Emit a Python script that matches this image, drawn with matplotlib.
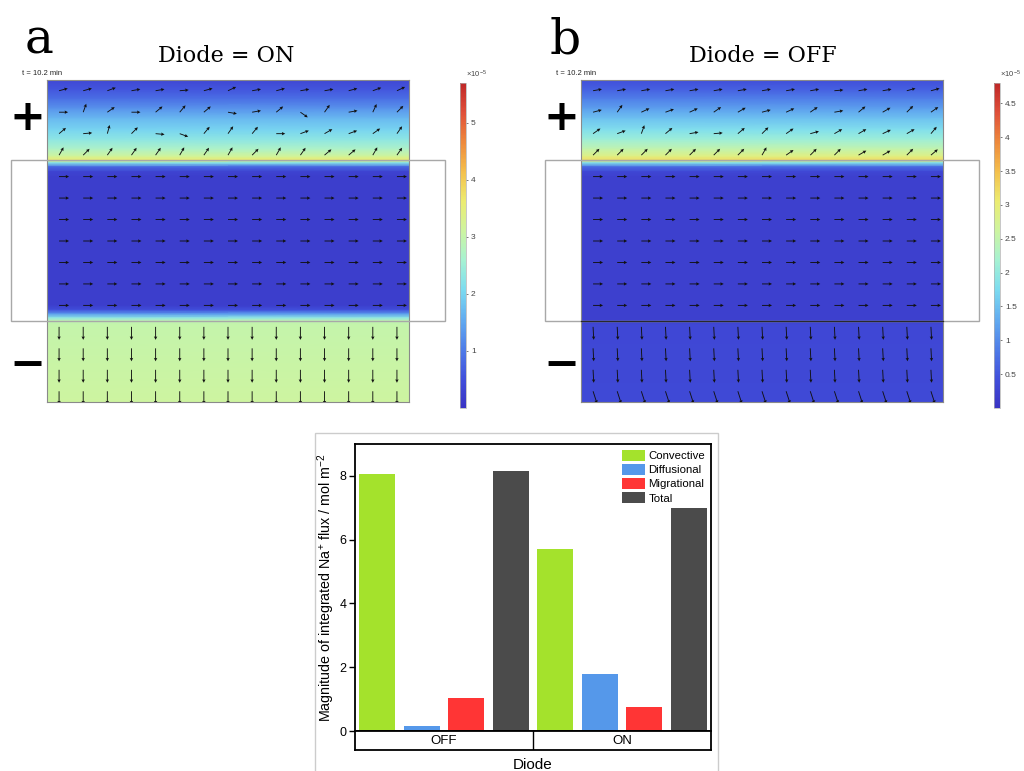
import numpy as np
import matplotlib
matplotlib.use("Agg")
import matplotlib.pyplot as plt
from matplotlib.colors import LinearSegmentedColormap, Normalize
from matplotlib.cm import ScalarMappable
from matplotlib.patches import Rectangle
from matplotlib.ticker import FuncFormatter

plt.rcParams['font.family'] = ['Liberation Sans', 'DejaVu Sans']
plt.rcParams['mathtext.fontset'] = 'custom'
plt.rcParams['mathtext.rm'] = 'Liberation Sans'
plt.rcParams['mathtext.it'] = 'Liberation Sans:italic'

# ---------------- data ----------------
# Panel c: integrated Na+ flux magnitude
diode_states = ['OFF', 'ON']
components = ['Convective', 'Diffusional', 'Migrational', 'Total']
flux_off = [8.05, 0.15, 1.02, 8.15]
flux_on = [5.72, 1.78, 0.75, 6.98]
comp_colors = ['#a4e22c', '#5598ea', '#ff3535', '#4b4b4b']

# Panels a/b: concentration profile along depth (fraction of cell height from top), units 1e-5
depth_on = [0.0, 0.03, 0.06, 0.09, 0.12, 0.155, 0.185, 0.215, 0.238, 0.248, 0.258, 0.27, 0.285, 0.30,
            0.70, 0.714, 0.727, 0.739, 0.748, 0.76, 1.0]
conc_on = [0.35, 0.6, 0.9, 1.3, 1.7, 2.0, 2.3, 2.7, 3.2, 3.6, 2.2, 0.8, 0.3, 0.2,
           0.2, 0.5, 1.4, 2.3, 2.9, 3.0, 3.1]
depth_off = [0.0, 0.03, 0.06, 0.09, 0.12, 0.155, 0.185, 0.215, 0.238, 0.248, 0.258, 0.27, 0.285, 0.30,
             0.745, 0.76, 1.0]
conc_off = [0.4, 0.6, 0.9, 1.2, 1.5, 1.8, 2.1, 2.5, 2.9, 3.2, 1.8, 0.7, 0.3, 0.2,
            0.2, 0.3, 0.32]
cbar_max_on = 5.7
cbar_max_off = 4.8
cbar_ticks_on = [1, 2, 3, 4, 5]
cbar_ticks_off = [0.5, 1, 1.5, 2, 2.5, 3, 3.5, 4, 4.5]

# arrow directions (degrees, screen coords) for 15x15 grid, top 4 rows vary
top_angles_on = [
    [15, 15, 20, 10, 10, 5, 15, 25, 10, 15, 10, 10, 15, 20, 25],
    [0, 70, 35, 0, 40, 50, 40, -10, 10, 40, -35, 55, 10, 65, 45],
    [40, 5, 75, 45, -5, -20, 50, 55, 50, 0, 20, 30, 20, 35, 55],
    [60, 45, 55, 55, 55, 60, 55, 60, 45, 60, 55, 40, 40, 60, 55],
]
top_angles_off = [
    [10, 10, 10, 10, 10, 10, 10, 10, 10, 10, 5, 10, 10, 15, 15],
    [15, 55, 25, 20, 25, 35, 30, 15, 25, 35, 10, 40, 30, 45, 35],
    [35, 20, 70, 40, 10, 5, 40, 45, 35, 15, 30, 30, 25, 30, 50],
    [45, 45, 45, 45, 45, 45, 45, 60, 35, 45, 45, 30, 30, 45, 40],
]
channel_angle = 0
bottom_row_angles_on = [-90, -90, -90, -90]
bottom_row_angles_off = [-87, -87, -87, -72]

W, H = 1024, 771
fig = plt.figure(figsize=(W / 100, H / 100), dpi=100)


def px_axes(x0, y0, x1, y1):
    return fig.add_axes([x0 / W, 1 - y1 / H, (x1 - x0) / W, (y1 - y0) / H])


def fx(x):
    return x / W


def fy(y):
    return 1 - y / H


def fig_rect(x0, y0, x1, y1, **kw):
    r = Rectangle((fx(x0), fy(y1)), (x1 - x0) / W, (y1 - y0) / H,
                  transform=fig.transFigure, fill=False, **kw)
    fig.add_artist(r)
    return r


cmap = LinearSegmentedColormap.from_list('comsol_light', [
    '#3a34c4', '#4150dc', '#4f7ee8', '#62acf0', '#7cdcf0', '#a6f2d2',
    '#cdf4a0', '#ecec70', '#f4c04c', '#ee8a3c', '#e0503a', '#c02828'])


def draw_panel(mx0, mx1, my0, my1, depth, conc, vmax, top_angles, bottom_angles,
               cbx0, ticks, letter, letter_x, title, title_cx, rect_x0, rect_x1,
               sign_cx, bottom_line=False):
    ax = px_axes(mx0, my0, mx1, my1)
    d = np.asarray(depth)
    c = np.asarray(conc)
    Y = np.column_stack([1 - d, 1 - d])
    X = np.column_stack([np.zeros_like(d), np.ones_like(d)])
    C = np.column_stack([c, c])
    ax.pcolormesh(X, Y, C, shading='gouraud', cmap=cmap, vmin=0, vmax=vmax)
    ax.set_xlim(0, 1)
    ax.set_ylim(0, 1)
    ax.set_xticks([])
    ax.set_yticks([])
    for s in ax.spines.values():
        s.set_color('#8a8a8a')
        s.set_linewidth(0.8)

    n = 15
    gx = (np.arange(n) + 0.5) / n
    gy = 1 - (np.arange(n) + 0.5) / n
    GX, GY = np.meshgrid(gx, gy)
    ang = np.vstack([np.array(top_angles, float),
                     np.full((7, n), channel_angle, float),
                     np.repeat(np.array(bottom_angles, float)[:, None], n, axis=1)])
    length = np.vstack([np.full((4, n), 9.0), np.full((7, n), 10.0), np.full((4, n), 13.0)])
    U = length * np.cos(np.radians(ang))
    V = length * np.sin(np.radians(ang))
    ax.quiver(GX, GY, U, V, angles='uv', scale_units='dots', scale=1, pivot='tail',
              units='dots', width=0.9, headwidth=3.8, headlength=3.8, headaxislength=3.4,
              color='#111111', zorder=3)

    # channel outline
    fig_rect(rect_x0, 160, rect_x1, 321, ec='#a8a8a8', lw=1.0, zorder=10)
    if bottom_line:
        fig.add_artist(plt.Line2D([fx(mx0), fx(mx1)], [fy(321), fy(321)],
                                  transform=fig.transFigure, color='#2a2a2a', lw=0.9, zorder=11))

    # colorbar
    cax = px_axes(cbx0, 83, cbx0 + 6, 408)
    sm = ScalarMappable(norm=Normalize(0, vmax), cmap=cmap)
    cb = fig.colorbar(sm, cax=cax, ticks=ticks)
    cb.outline.set_edgecolor('#b0b0b0')
    cb.outline.set_linewidth(0.5)
    cax.tick_params(labelsize=6, length=1.5, width=0.5, colors='#444444', pad=2)
    cax.yaxis.set_major_formatter(FuncFormatter(lambda v, p: '%g' % v))
    fig.text(fx(cbx0 + 6), fy(78), r'$\times10^{-5}$', fontsize=5.5, color='#444444',
             ha='left', va='baseline')

    fig.text(fx(mx0 - 25), fy(75), 't = 10.2 min', fontsize=5.5, color='#222222',
             ha='left', va='baseline')
    fig.text(fx(letter_x), fy(53), letter, fontsize=35, family='DejaVu Serif',
             ha='left', va='baseline')
    fig.text(fx(title_cx), fy(62), title, fontsize=16, family='DejaVu Serif',
             ha='center', va='baseline')
    fig.text(fx(sign_cx), fy(118), '+', fontsize=31, fontweight='bold', family='DejaVu Sans',
             ha='center', va='center')
    fig.text(fx(sign_cx), fy(365), '\u2212', fontsize=31, fontweight='bold', family='DejaVu Sans',
             ha='center', va='center')


draw_panel(47, 409, 80, 402, depth_on, conc_on, cbar_max_on, top_angles_on, bottom_row_angles_on,
           460, cbar_ticks_on, 'a', 25, 'Diode = ON', 226, 11, 445, 27)
draw_panel(581, 943, 80, 402, depth_off, conc_off, cbar_max_off, top_angles_off, bottom_row_angles_off,
           994, cbar_ticks_off, 'b', 550, 'Diode = OFF', 763, 545, 979, 561, bottom_line=True)

# ---------------- panel c ----------------
fig_rect(315, 433, 718, 776, ec='#cccccc', lw=1.0, zorder=0)
ax = px_axes(355, 444, 711, 731)
ncomp = len(components)
for ci, comp in enumerate(components):
    xs = [gi * ncomp + ci for gi in range(len(diode_states))]
    vals = [flux_off[ci], flux_on[ci]]
    ax.bar(xs, vals, width=0.81, color=comp_colors[ci], label=comp, zorder=2)
ax.set_xlim(-0.5, ncomp * len(diode_states) - 0.5)
ax.set_ylim(0, 9)
ax.set_xticks([])
ax.set_yticks([0, 2, 4, 6, 8])
ax.tick_params(axis='y', labelsize=9, length=4, width=1.0, direction='out', pad=2)
for s in ax.spines.values():
    s.set_linewidth(1.3)
ax.set_ylabel('Magnitude of integrated Na$^{+}$ flux / mol m$^{-2}$', fontsize=10.3)
ax.yaxis.set_label_coords(-0.05, 0.5)
leg = ax.legend(loc='upper right', fontsize=8.2, frameon=False, handlelength=2.0,
                handleheight=1.1, labelspacing=0.25, handletextpad=0.3,
                borderaxespad=0.3, borderpad=0.2)

axc = px_axes(355, 731, 711, 750)
axc.set_xlim(-0.5, ncomp * len(diode_states) - 0.5)
axc.set_ylim(0, 1)
axc.set_xticks([])
axc.set_yticks([])
for s in axc.spines.values():
    s.set_linewidth(1.3)
axc.axvline(ncomp - 0.5, color='black', lw=1.0)
for gi, st in enumerate(diode_states):
    axc.text(gi * ncomp + (ncomp - 1) / 2, 0.5, st, ha='center', va='center', fontsize=9.5)
fig.text(fx(533), fy(765), 'Diode', ha='center', va='center', fontsize=11)

fig.savefig('out.png', dpi=100)
